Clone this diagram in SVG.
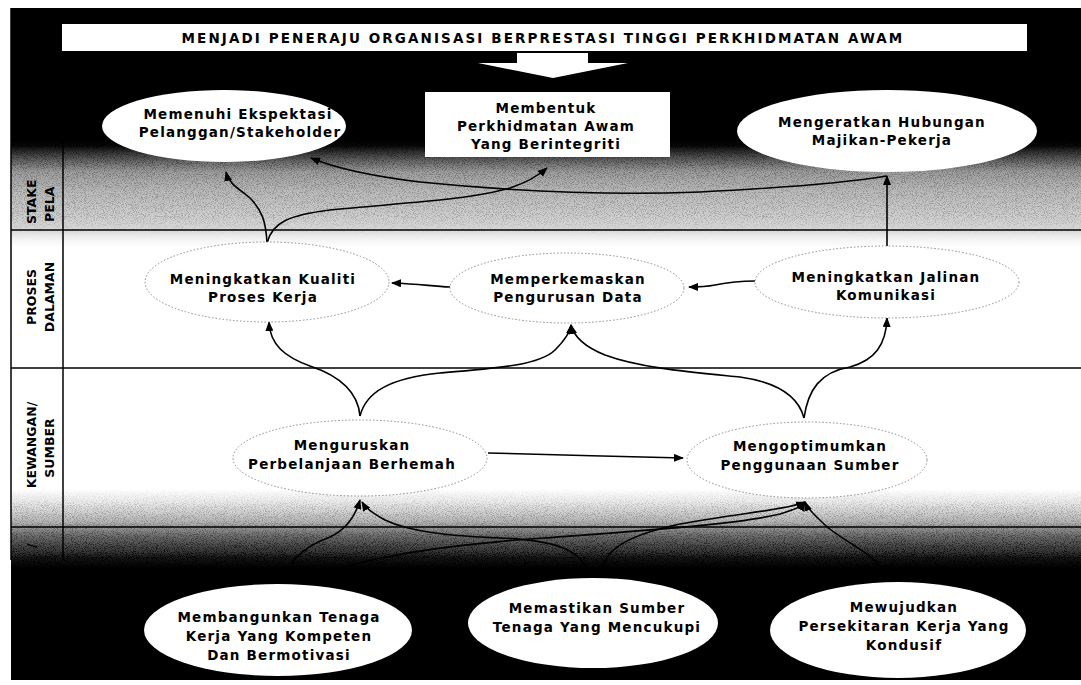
<svg xmlns="http://www.w3.org/2000/svg" width="1081" height="685" viewBox="0 0 1081 685">
<defs>
  <linearGradient id="shade" gradientUnits="userSpaceOnUse" x1="0" y1="8" x2="0" y2="680">
    <stop offset="0" stop-color="#000"/>
    <stop offset="0.205" stop-color="#000"/>
    <stop offset="0.226" stop-color="#4a4a4a"/>
    <stop offset="0.244" stop-color="#8e8e8e"/>
    <stop offset="0.271" stop-color="#b0b0b0"/>
    <stop offset="0.301" stop-color="#c4c4c4"/>
    <stop offset="0.328" stop-color="#d6d6d6"/>
    <stop offset="0.345" stop-color="#f4f4f4"/>
    <stop offset="0.356" stop-color="#fff"/>
    <stop offset="0.716" stop-color="#fff"/>
    <stop offset="0.735" stop-color="#ececec"/>
    <stop offset="0.750" stop-color="#cdcdcd"/>
    <stop offset="0.765" stop-color="#aaa"/>
    <stop offset="0.772" stop-color="#8a8a8a"/>
    <stop offset="0.786" stop-color="#555"/>
    <stop offset="0.804" stop-color="#222"/>
    <stop offset="0.818" stop-color="#000"/>
    <stop offset="1" stop-color="#000"/>
  </linearGradient>
  <!-- fades that keep the speckle texture inside the two shading bands -->
  <linearGradient id="fadeTop" x1="0" y1="0" x2="0" y2="1">
    <stop offset="0" stop-color="#000"/>
    <stop offset="0.25" stop-color="#fff"/>
    <stop offset="0.8" stop-color="#fff"/>
    <stop offset="1" stop-color="#000"/>
  </linearGradient>
  <mask id="bandTop" maskUnits="userSpaceOnUse" x="11" y="140" width="1070" height="96">
    <rect x="11" y="140" width="1070" height="96" fill="url(#fadeTop)"/>
  </mask>
  <mask id="bandLow" maskUnits="userSpaceOnUse" x="11" y="488" width="1070" height="80">
    <rect x="11" y="488" width="1070" height="80" fill="url(#fadeTop)"/>
  </mask>
  <filter id="grain" x="0" y="0" width="1" height="1">
    <feTurbulence type="fractalNoise" baseFrequency="1.1" numOctaves="2" seed="7"/>
    <feColorMatrix type="matrix" values="4 0 0 0 -1.5  4 0 0 0 -1.5  4 0 0 0 -1.5  0 0 0 0 0.16"/>
  </filter>
  <marker id="ah" viewBox="0 0 10 8" refX="9" refY="4" markerWidth="10" markerHeight="8" markerUnits="userSpaceOnUse" orient="auto">
    <path d="M0,0 L10,4 L0,8 z" fill="#000"/>
  </marker>
</defs>
<style>
  .nt{font-family:"DejaVu Sans","Liberation Sans",sans-serif;font-weight:bold;font-size:13.5px;letter-spacing:1.2px;text-anchor:middle;fill:#000}
  .hd{font-family:"DejaVu Sans","Liberation Sans",sans-serif;font-weight:bold;font-size:13.5px;letter-spacing:2.1px;text-anchor:middle;fill:#000}
  .lbl{font-family:"DejaVu Sans","Liberation Sans",sans-serif;font-weight:bold;font-size:12.5px;fill:#000}
  .mid{text-anchor:middle}
  .grid{stroke:#000;stroke-width:1.5;fill:none}
  .dot{fill:#fff;stroke:#8a8a8a;stroke-width:1;stroke-dasharray:1.5 2}
  .solid{fill:#fff}
  #connectors path{fill:none;stroke:#000;stroke-width:1.6;marker-end:url(#ah)}
</style>

<!-- shaded page background with speckled transitions -->
<rect x="11" y="8" width="1070" height="672" fill="url(#shade)"/>
<rect x="11" y="140" width="1070" height="96" filter="url(#grain)" mask="url(#bandTop)"/>
<rect x="11" y="488" width="1070" height="80" filter="url(#grain)" mask="url(#bandLow)"/>

<!-- perspective rows and label column -->
<g id="grid">
  <line class="grid" x1="11" y1="230" x2="1081" y2="230"/>
  <line class="grid" x1="11" y1="368" x2="1081" y2="368"/>
  <line class="grid" x1="11" y1="527" x2="1081" y2="527"/>
  <line class="grid" x1="11" y1="8" x2="11" y2="560"/>
  <line class="grid" x1="63" y1="8" x2="63" y2="560"/>
  <text class="lbl" transform="translate(36,224) rotate(-90)">STAKE</text>
  <text class="lbl" transform="translate(54,222) rotate(-90)">PELA</text>
  <text class="lbl mid" transform="translate(36,297) rotate(-90)">PROSES</text>
  <text class="lbl mid" transform="translate(54,297) rotate(-90)">DALAMAN</text>
  <text class="lbl mid" transform="translate(36,445) rotate(-90)">KEWANGAN/</text>
  <text class="lbl mid" transform="translate(54,448) rotate(-90)">SUMBER</text>
  <text class="lbl" transform="translate(36,548) rotate(-90)" fill="#333">/</text>
</g>

<!-- vision banner and block arrow -->
<g id="vision">
  <rect x="62" y="24" width="965" height="27" fill="#fff"/>
  <text class="hd" x="543" y="43">MENJADI PENERAJU ORGANISASI BERPRESTASI TINGGI PERKHIDMATAN AWAM</text>
  <polygon points="517,53 588,53 588,63 628,63 553,78 478,63 517,63" fill="#fff"/>
</g>

<g id="connectors">
  <!-- stakeholder row -->
  <path d="M267,243 C266,222 262,210 250,198 C238,188 229,184 226,172"/>
  <path d="M267,243 C272,222 290,215 330,210 C400,203 470,200 510,188 C528,182 538,176 547,168"/>
  <path d="M887,176 C850,182 780,188 700,192 C600,196 500,190 420,182 C370,176 335,168 311,158"/>
  <path d="M887,246 L887,176"/>
  <!-- internal process row -->
  <path d="M450,287 C430,286 420,284 392,283"/>
  <path d="M755,281 C735,281 725,283 715,285 C705,287 698,287 689,287"/>
  <!-- finance row to process row -->
  <path d="M360,416 C358,392 340,376 310,366 C285,357 270,345 269,322"/>
  <path d="M360,416 C366,392 390,378 440,373 C500,368 540,365 555,350 C565,340 570,333 571,325"/>
  <path d="M804,418 C798,395 775,382 740,377 C690,372 640,368 605,355 C585,347 574,337 571,325"/>
  <path d="M804,418 C808,390 820,372 850,367 C875,360 886,345 887,318"/>
  <path d="M488,453 C550,454 620,457 683,458"/>
  <!-- learning row to finance row -->
  <path d="M285,585 C285,565 300,548 330,537 C345,530 355,517 360,500"/>
  <path d="M300,585 C340,560 440,545 545,538 C650,530 740,524 780,514 C795,509 802,507 805,502"/>
  <path d="M590,578 C585,552 560,540 500,538 C450,536 410,532 385,520 C372,513 365,507 362,502"/>
  <path d="M600,578 C602,550 625,536 680,524 C740,513 785,510 805,502"/>
  <path d="M890,580 C880,555 840,540 825,525 C815,515 808,510 805,502"/>
</g>

<g id="n-pelanggan">
  <ellipse class="solid" cx="224" cy="126" rx="122" ry="36"/>
  <text class="nt" x="238" y="119">Memenuhi Ekspektasi</text>
  <text class="nt" x="240" y="137">Pelanggan/Stakeholder</text>
</g>
<g id="n-integriti">
  <rect class="solid" x="425" y="92" width="245" height="65"/>
  <text class="nt" x="546" y="113">Membentuk</text>
  <text class="nt" x="546" y="131">Perkhidmatan Awam</text>
  <text class="nt" x="546" y="149">Yang Berintegriti</text>
</g>
<g id="n-hubungan">
  <ellipse class="solid" cx="887" cy="131" rx="150" ry="41"/>
  <text class="nt" x="882" y="127">Mengeratkan Hubungan</text>
  <text class="nt" x="882" y="145">Majikan-Pekerja</text>
</g>

<g id="n-kualiti">
  <ellipse class="dot" cx="267" cy="282" rx="122" ry="40"/>
  <text class="nt" x="263" y="284">Meningkatkan Kualiti</text>
  <text class="nt" x="263" y="302">Proses Kerja</text>
</g>
<g id="n-data">
  <ellipse class="dot" cx="567" cy="288" rx="117" ry="35"/>
  <text class="nt" x="568" y="284">Memperkemaskan</text>
  <text class="nt" x="568" y="302">Pengurusan Data</text>
</g>
<g id="n-komunikasi">
  <ellipse class="dot" cx="887" cy="282" rx="132" ry="36"/>
  <text class="nt" x="886" y="282">Meningkatkan Jalinan</text>
  <text class="nt" x="886" y="300">Komunikasi</text>
</g>

<g id="n-perbelanjaan">
  <ellipse class="dot" cx="360" cy="458" rx="127" ry="38"/>
  <text class="nt" x="352" y="450">Menguruskan</text>
  <text class="nt" x="352" y="469">Perbelanjaan Berhemah</text>
</g>
<g id="n-sumber">
  <ellipse class="dot" cx="807" cy="460" rx="120" ry="38"/>
  <text class="nt" x="810" y="451">Mengoptimumkan</text>
  <text class="nt" x="810" y="470">Penggunaan Sumber</text>
</g>

<g id="n-tenaga-kerja">
  <ellipse class="solid" cx="278" cy="630" rx="134" ry="46"/>
  <text class="nt" x="279" y="622">Membangunkan Tenaga</text>
  <text class="nt" x="279" y="641">Kerja Yang Kompeten</text>
  <text class="nt" x="279" y="660">Dan Bermotivasi</text>
</g>
<g id="n-sumber-tenaga">
  <ellipse class="solid" cx="593" cy="623" rx="125" ry="45"/>
  <text class="nt" x="597" y="613">Memastikan Sumber</text>
  <text class="nt" x="597" y="632">Tenaga Yang Mencukupi</text>
</g>
<g id="n-persekitaran">
  <ellipse class="solid" cx="898" cy="630" rx="128" ry="48"/>
  <text class="nt" x="904" y="612">Mewujudkan</text>
  <text class="nt" x="904" y="631">Persekitaran Kerja Yang</text>
  <text class="nt" x="904" y="650">Kondusif</text>
</g>
</svg>
